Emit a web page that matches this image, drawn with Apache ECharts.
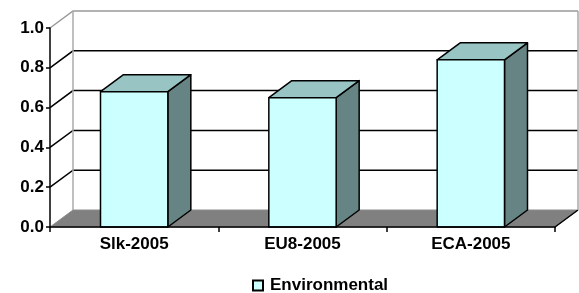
<!DOCTYPE html>
<html>
<head>
<meta charset="utf-8">
<script src="https://cdn.jsdelivr.net/npm/echarts@6/dist/echarts.min.js"></script>
<style>
  html, body { margin: 0; padding: 0; background: #fff; }
  #chart { width: 579px; height: 293px; }
</style>
</head>
<body>
<div id="chart"></div>
<script>
const categories = ['Slk-2005', 'EU8-2005', 'ECA-2005'];
const environmental = [0.68, 0.65, 0.84];
const yTicks = [0, 0.2, 0.4, 0.6, 0.8, 1.0];

const DX = 23, DY = -17; // depth of the 3d box, px
const FONT = 'Liberation Sans, Arial, sans-serif';

// back wall, left wall gridlines and floor
function renderWall(params, api) {
  const v = api.value(1);
  const bw = api.size([1, 0])[0];
  const p = api.coord([0, v]);
  const left = p[0] - bw / 2;
  const right = api.coord([categories.length - 1, v])[0] + bw / 2;
  const y = p[1];
  const children = [];
  const last = yTicks.length - 1;
  if (params.dataIndex === 0) {
    children.push({
      type: 'polygon',
      shape: { points: [[left, y], [right, y], [right + DX, y + DY], [left + DX, y + DY]] },
      style: { fill: '#808080', stroke: '#8c8c8c', lineWidth: 1 }
    });
    children.push({
      type: 'line',
      shape: { x1: right, y1: y, x2: right + DX, y2: y + DY },
      style: { stroke: '#000', lineWidth: 1.5 }
    });
  } else {
    const c = params.dataIndex === last ? '#999' : '#000';
    children.push({
      type: 'polyline',
      shape: { points: [[left, y], [left + DX, y + DY], [right + DX, y + DY]] },
      style: { stroke: c, lineWidth: 1.5, fill: null }
    });
  }
  if (params.dataIndex === last) {
    const y0 = api.coord([0, yTicks[0]])[1];
    children.push({
      type: 'line',
      shape: { x1: left + DX, y1: y0 + DY, x2: left + DX, y2: y + DY },
      style: { stroke: '#aaa', lineWidth: 1.5 }
    });
    children.push({
      type: 'line',
      shape: { x1: right + DX, y1: y0 + DY, x2: right + DX, y2: y + DY },
      style: { stroke: '#aaa', lineWidth: 1.5 }
    });
  }
  return { type: 'group', children };
}

function renderBar(params, api) {
  const top = api.coord([api.value(0), api.value(1)]);
  const base = api.coord([api.value(0), 0]);
  const w = api.size([1, 0])[0] * 0.4;
  const xl = top[0] - w / 2, xr = top[0] + w / 2;
  const yt = top[1], yb = base[1];
  const line = { stroke: '#000', lineWidth: 1.5, lineJoin: 'round' };
  return {
    type: 'group',
    children: [
      {
        type: 'polygon',
        shape: { points: [[xr, yt], [xr + DX, yt + DY], [xr + DX, yb + DY], [xr, yb]] },
        style: Object.assign({ fill: '#668484' }, line)
      },
      {
        type: 'polygon',
        shape: { points: [[xl, yt], [xr, yt], [xr + DX, yt + DY], [xl + DX, yt + DY]] },
        style: Object.assign({ fill: '#99c4c4' }, line)
      },
      {
        type: 'rect',
        shape: { x: xl, y: yt, width: w, height: yb - yt },
        style: Object.assign({ fill: '#ccffff' }, line)
      }
    ]
  };
}

const chart = echarts.init(document.getElementById('chart'));
chart.setOption({
  animation: false,
  grid: { left: 50, right: 24, top: 28, bottom: 66 },
  legend: {
    data: [{
      name: 'Environmental',
      icon: 'rect',
      itemStyle: { color: '#ccffff', borderColor: '#000', borderWidth: 2 }
    }],
    left: 247, top: 272,
    itemWidth: 10, itemHeight: 10,
    textStyle: { fontFamily: FONT, fontSize: 17, fontWeight: 'bold', color: '#000', padding: [0, 0, 0, 2] }
  },
  xAxis: {
    type: 'category',
    data: categories,
    z: 5,
    axisLine: { lineStyle: { color: '#000', width: 1.5 } },
    axisTick: { show: true, length: 5, lineStyle: { color: '#000', width: 1.5 } },
    axisLabel: { margin: 9, fontFamily: FONT, fontSize: 17, fontWeight: 'bold', color: '#000' }
  },
  yAxis: {
    type: 'value',
    min: yTicks[0],
    max: yTicks[yTicks.length - 1],
    interval: 0.2,
    z: 5,
    splitLine: { show: false },
    axisLine: { show: true, lineStyle: { color: '#000', width: 1.5 } },
    axisTick: { show: true, length: 4, lineStyle: { color: '#000', width: 1.5 } },
    axisLabel: {
      margin: 6, fontFamily: FONT, fontSize: 17, fontWeight: 'bold', color: '#000',
      formatter: v => v.toFixed(1)
    }
  },
  series: [
    {
      type: 'custom',
      name: 'walls',
      silent: true,
      renderItem: renderWall,
      encode: { x: 0, y: 1 },
      data: yTicks.map(v => [0, v])
    },
    {
      type: 'custom',
      name: 'Environmental',
      renderItem: renderBar,
      itemStyle: { color: '#ccffff', borderColor: '#000', borderWidth: 1.5 },
      encode: { x: 0, y: 1 },
      data: environmental.map((v, i) => [i, v])
    }
  ]
});
</script>
</body>
</html>
